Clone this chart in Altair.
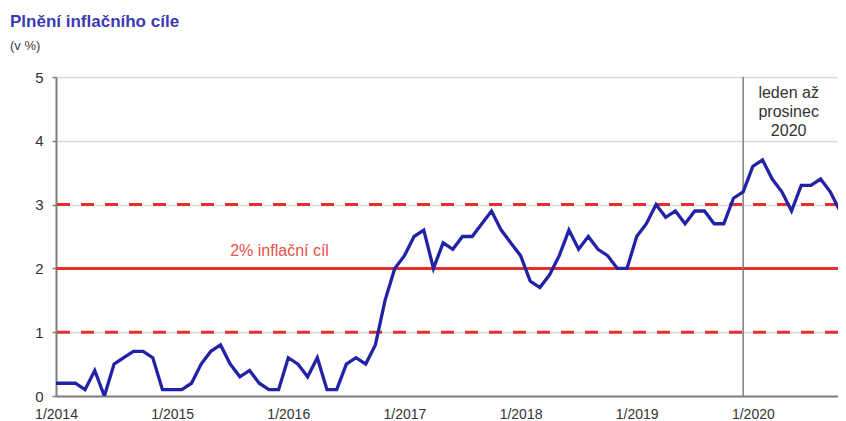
import altair as alt
import pandas as pd

# Monthly inflation y/y (%) from 1/2014
v2014 = [0.2, 0.2, 0.2, 0.1, 0.4, 0.0, 0.5, 0.6, 0.7, 0.7, 0.6, 0.1]
v2015 = [0.1, 0.1, 0.2, 0.5, 0.7, 0.8, 0.5, 0.3, 0.4, 0.2, 0.1, 0.1]
v2016 = [0.6, 0.5, 0.3, 0.6, 0.1, 0.1, 0.5, 0.6, 0.5, 0.8, 1.5, 2.0]
v2017 = [2.2, 2.5, 2.6, 2.0, 2.4, 2.3, 2.5, 2.5, 2.7, 2.9, 2.6, 2.4]
v2018 = [2.2, 1.8, 1.7, 1.9, 2.2, 2.6, 2.3, 2.5, 2.3, 2.2, 2.0, 2.0]
v2019 = [2.5, 2.7, 3.0, 2.8, 2.9, 2.7, 2.9, 2.9, 2.7, 2.7, 3.1, 3.2]
v2020 = [3.6, 3.7, 3.4, 3.2, 2.9, 3.3, 3.3, 3.4, 3.2, 2.9, 2.7]

tick_labels = ["1/2014", "1/2015", "1/2016", "1/2017", "1/2018", "1/2019", "1/2020"]
target_lines_dashed = [1, 3]
target_line = [2]
y_ticks = [0, 1, 2, 3, 4, 5]

values = v2014 + v2015 + v2016 + v2017 + v2018 + v2019 + v2020
df = pd.DataFrame({"idx": list(range(len(values))), "value": values})

BLUE = "#2222a6"
RED = "#e3302b"
AXIS = "#7f7f7f"
FONT = "Liberation Sans"

label_arr = "[" + ",".join("'%s'" % t for t in tick_labels) + "]"

x_enc = alt.X(
    "idx:Q",
    scale=alt.Scale(domain=[0, 80.8], nice=False, zero=False),
    axis=alt.Axis(
        values=[i * 12 for i in range(len(tick_labels))],
        labelExpr=label_arr + "[round(datum.value/12)]",
        tickSize=0,
        grid=False,
        labelPadding=11,
        labelFontSize=14,
        labelColor="#333333",
        labelFont=FONT,
        labelFlush=False,
        labelOverlap=False,
        domainColor=AXIS,
        domainWidth=2,
        title=None,
    ),
)
y_enc = alt.Y(
    "value:Q",
    scale=alt.Scale(domain=[0, 5], nice=False),
    axis=alt.Axis(
        values=y_ticks,
        format="d",
        tickSize=4,
        tickColor=AXIS,
        tickWidth=1.5,
        labelPadding=9,
        labelFontSize=15,
        labelColor="#333333",
        labelFont=FONT,
        grid=True,
        gridColor="#d9d9d9",
        gridWidth=1.5,
        domainColor=AXIS,
        domainWidth=2,
        title=None,
    ),
)

line = alt.Chart(df).mark_line(color=BLUE, strokeWidth=3.3, clip=True).encode(x=x_enc, y=y_enc)

dashed = alt.Chart(pd.DataFrame({"v": target_lines_dashed})).mark_rule(
    color=RED, strokeWidth=3, strokeDash=[13, 11]
).encode(y=alt.Y("v:Q"))

solid = alt.Chart(pd.DataFrame({"v": target_line})).mark_rule(
    color=RED, strokeWidth=3
).encode(y=alt.Y("v:Q"))

vline = alt.Chart(pd.DataFrame({"x": [71]})).mark_rule(
    color="#7f7f7f", strokeWidth=1.5
).encode(x=alt.X("x:Q"))

target_text = alt.Chart(pd.DataFrame({"t": ["2% inflační cíl"]})).mark_text(
    color="#e8504a", fontSize=16, font=FONT, align="center", baseline="alphabetic"
).encode(x=alt.datum(23.1), y=alt.datum(2.2), text="t:N")

period_text = alt.Chart(pd.DataFrame({"t": [["leden až", "prosinec", "2020"]]})).mark_text(
    color="#333333", fontSize=16, font=FONT, align="center", baseline="top", lineHeight=19
).encode(x=alt.datum(75.7), y=alt.datum(4.87), text="t")

title = alt.Chart(pd.DataFrame({"t": ["Plnění inflačního cíle"]})).mark_text(
    color="#3a3ab5", fontSize=17, fontWeight="bold", font=FONT, align="left", baseline="alphabetic"
).encode(x=alt.value(-46), y=alt.value(-50), text="t:N")

unit = alt.Chart(pd.DataFrame({"t": ["(v %)"]})).mark_text(
    color="#404040", fontSize=13, font=FONT, align="left", baseline="alphabetic"
).encode(x=alt.value(-46), y=alt.value(-27), text="t:N")

chart = alt.layer(dashed, solid, vline, line, target_text, period_text, title, unit).properties(
    width=782,
    height=319,
    autosize=alt.AutoSizeParams(type="none"),
    padding={"left": 48, "top": 69, "right": 0, "bottom": 25},
).configure_view(stroke=None).configure(background="white")

chart.save("out.html", embed_options={"renderer": "svg", "actions": False})
